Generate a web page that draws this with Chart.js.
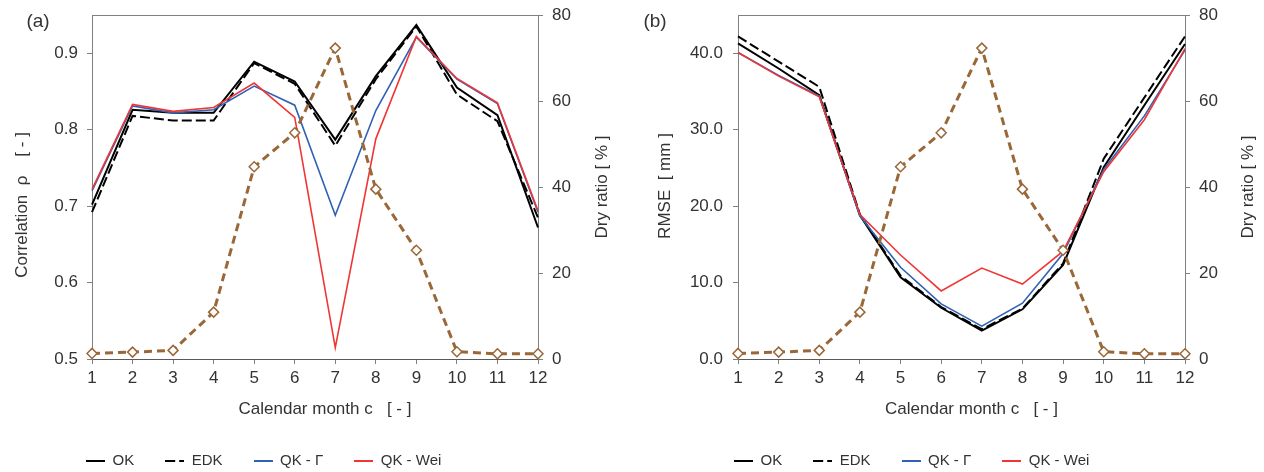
<!DOCTYPE html>
<html>
<head>
<meta charset="utf-8">
<script src="https://cdn.jsdelivr.net/npm/chart.js@4"></script>
<style>
  body { margin: 0; background: #fff; }
  #wrap { position: relative; width: 1264px; height: 472px; }
  .panel { position: absolute; top: 0; width: 632px; height: 472px; }
</style>
</head>
<body>
<div id="wrap">
  <div class="panel" style="left:0"><canvas id="chartA" width="632" height="472"></canvas></div>
  <div class="panel" style="left:632px"><canvas id="chartB" width="632" height="472"></canvas></div>
</div>
<script>
// calendar months
const months = ['1', '2', '3', '4', '5', '6', '7', '8', '9', '10', '11', '12'];

// (a) correlation rho
const corrOK  = [0.702, 0.826, 0.822, 0.822, 0.889, 0.863, 0.787, 0.870, 0.937, 0.855, 0.819, 0.672];
const corrEDK = [0.692, 0.818, 0.812, 0.812, 0.887, 0.860, 0.779, 0.866, 0.935, 0.846, 0.811, 0.685];
const corrQKG = [0.720, 0.831, 0.822, 0.826, 0.857, 0.832, 0.688, 0.825, 0.921, 0.866, 0.834, 0.692];
const corrQKW = [0.722, 0.833, 0.824, 0.829, 0.861, 0.816, 0.515, 0.788, 0.922, 0.867, 0.835, 0.694];

// (b) RMSE [mm]
const rmseOK  = [41.3, 38.0, 34.5, 18.8, 10.7, 6.7, 3.7, 6.5, 12.3, 25.1, 33.2, 41.2];
const rmseEDK = [42.2, 38.9, 35.6, 18.9, 10.9, 6.8, 3.9, 6.6, 12.5, 26.2, 34.2, 42.2];
const rmseQKG = [40.1, 37.1, 34.4, 18.7, 12.0, 7.2, 4.3, 7.3, 13.8, 24.8, 31.8, 40.4];
const rmseQKW = [40.1, 37.0, 34.3, 18.9, 13.6, 8.9, 11.9, 9.8, 14.1, 24.5, 31.3, 40.6];

// dry ratio [%], same in both panels
const dryRatio = [1.3, 1.6, 2.0, 10.9, 44.7, 52.6, 72.3, 39.5, 25.3, 1.7, 1.2, 1.2];

const seriesNames = ['OK', 'EDK', 'QK - Γ', 'QK - Wei'];

const FONT = '"Liberation Sans", Arial, sans-serif';
const TXT = '#333333';
const AXIS = '#808080';

// small line swatch used as legend symbol
function lineSample(color, width, dash) {
    const c = document.createElement('canvas');
    c.width = 19; c.height = 6;
    const g = c.getContext('2d');
    g.strokeStyle = color;
    g.lineWidth = width;
    g.setLineDash(dash);
    g.beginPath();
    g.moveTo(0, 3);
    g.lineTo(19, 3);
    g.stroke();
    return c;
}

const panelDecor = {
    id: 'panelDecor',
    afterLayout(chart, args, opts) {
        const lg = chart.legend;
        const pad = lg.options.labels.padding;
        const h = lg.height;
        lg.left = opts.legendX - pad;
        lg.top = 461 - pad - 7.5;
        lg.bottom = lg.top + h;
    },
    afterDraw(chart, args, opts) {
        const { ctx, chartArea } = chart;
        ctx.save();
        ctx.strokeStyle = AXIS;
        ctx.lineWidth = 1;
        ctx.beginPath();
        ctx.moveTo(chartArea.left, chartArea.top + 0.5);
        ctx.lineTo(chartArea.right, chartArea.top + 0.5);
        ctx.stroke();

        ctx.fillStyle = TXT;
        ctx.font = '19px ' + FONT;
        ctx.textAlign = 'center';
        ctx.textBaseline = 'middle';
        ctx.fillText(opts.label, opts.labelX, 22);

        ctx.font = '17px ' + FONT;
        ctx.fillText('Calendar month c   [ - ]', (chartArea.left + chartArea.right) / 2 + 10, 409);

        ctx.save();
        ctx.translate(opts.leftTitleX, opts.leftTitleY);
        ctx.rotate(-Math.PI / 2);
        ctx.fillText(opts.leftTitle, 0, 0);
        ctx.restore();

        ctx.translate(opts.rightTitleX, (chartArea.top + chartArea.bottom) / 2);
        ctx.rotate(-Math.PI / 2);
        ctx.fillText('Dry ratio [ % ]', 0, 0);
        ctx.restore();
    }
};

function fixWidth(w) {
    return (s) => {
        s.width = w;
        s.paddingTop = 0;
        s.paddingBottom = 0;
    };
}

function makeChart(id, p) {
    const datasets = [
        { label: 'Dry ratio', data: dryRatio, yAxisID: 'y2', order: 0,
          borderColor: '#9a6838', borderWidth: 3, borderDash: [8, 5],
          pointStyle: 'rectRot', pointRadius: 5, pointBorderWidth: 1.5,
          pointBackgroundColor: '#ffffff', pointBorderColor: '#9a6838' },
        { label: seriesNames[3], data: p.w, yAxisID: 'y', order: 1, borderColor: '#f03535', borderWidth: 1.6,
          pointRadius: 0, pointStyle: lineSample('#f03535', 2, []) },
        { label: seriesNames[2], data: p.g, yAxisID: 'y', order: 2, borderColor: '#2f62b4', borderWidth: 1.6,
          pointRadius: 0, pointStyle: lineSample('#2f62b4', 2, []) },
        { label: seriesNames[0], data: p.ok, yAxisID: 'y', order: 3, borderColor: '#000000', borderWidth: 2,
          pointRadius: 0, pointStyle: lineSample('#000000', 2, []) },
        { label: seriesNames[1], data: p.edk, yAxisID: 'y', order: 4, borderColor: '#000000', borderWidth: 2,
          borderDash: [10, 4], pointRadius: 0, pointStyle: lineSample('#000000', 2, [10, 4]) }
    ];
    return new Chart(document.getElementById(id), {
        type: 'line',
        data: { labels: months, datasets: datasets },
        plugins: [panelDecor],
        options: {
            responsive: false,
            animation: false,
            layout: { padding: { top: 15, right: 0, bottom: 0, left: 0 } },
            elements: { line: { tension: 0 } },
            plugins: {
                tooltip: { enabled: false },
                panelDecor: p.decor,
                legend: {
                    position: 'bottom',
                    align: 'start',
                    labels: {
                        filter: (item) => item.text !== 'Dry ratio',
                        sort: (a, b) => seriesNames.indexOf(a.text) - seriesNames.indexOf(b.text),
                        usePointStyle: true,
                        pointStyleWidth: 19,
                        padding: 31,
                        color: TXT,
                        font: { family: FONT, size: 15 }
                    }
                }
            },
            scales: {
                x: {
                    offset: false,
                    afterFit: (s) => { s.height = 57; },
                    grid: { drawOnChartArea: false, drawTicks: true, tickLength: 5, color: AXIS },
                    border: { display: true, color: '#595959', width: 1 },
                    ticks: { color: TXT, padding: 4, font: { family: FONT, size: 17 }, maxRotation: 0, autoSkip: false }
                },
                y: {
                    position: 'left',
                    min: p.yMin, max: p.yMax,
                    afterFit: fixWidth(p.leftW),
                    afterBuildTicks: (s) => { s.ticks = s.ticks.filter(t => t.value <= p.yTop + 1e-9); },
                    grid: { drawOnChartArea: false, drawTicks: true, tickLength: 5, color: AXIS },
                    border: { display: true, color: AXIS, width: 1 },
                    ticks: { stepSize: p.yStep, color: TXT, padding: p.tickPad, font: { family: FONT, size: 17 },
                             callback: (v) => Number(v).toFixed(1) }
                },
                y2: {
                    position: 'right',
                    min: 0, max: 80,
                    afterFit: fixWidth(p.rightW),
                    grid: { drawOnChartArea: false, drawTicks: true, tickLength: 5, color: AXIS },
                    border: { display: true, color: AXIS, width: 1 },
                    ticks: { stepSize: 20, color: TXT, padding: 9, font: { family: FONT, size: 17 } }
                }
            }
        }
    });
}

makeChart('chartA', {
    ok: corrOK, edk: corrEDK, g: corrQKG, w: corrQKW,
    yMin: 0.5, yMax: 0.95, yTop: 0.9, yStep: 0.1, tickPad: 9,
    leftW: 92, rightW: 94,
    decor: { label: '(a)', labelX: 38, rightTitleX: 602, legendX: 86,
             leftTitle: 'Correlation  ρ    [ - ]', leftTitleX: 22, leftTitleY: 205 }
});

makeChart('chartB', {
    ok: rmseOK, edk: rmseEDK, g: rmseQKG, w: rmseQKW,
    yMin: 0, yMax: 45, yTop: 40, yStep: 10, tickPad: 10,
    leftW: 106, rightW: 79,
    decor: { label: '(b)', labelX: 23, rightTitleX: 616, legendX: 102,
             leftTitle: 'RMSE  [ mm ]', leftTitleX: 33, leftTitleY: 186 }
});
</script>
</body>
</html>
